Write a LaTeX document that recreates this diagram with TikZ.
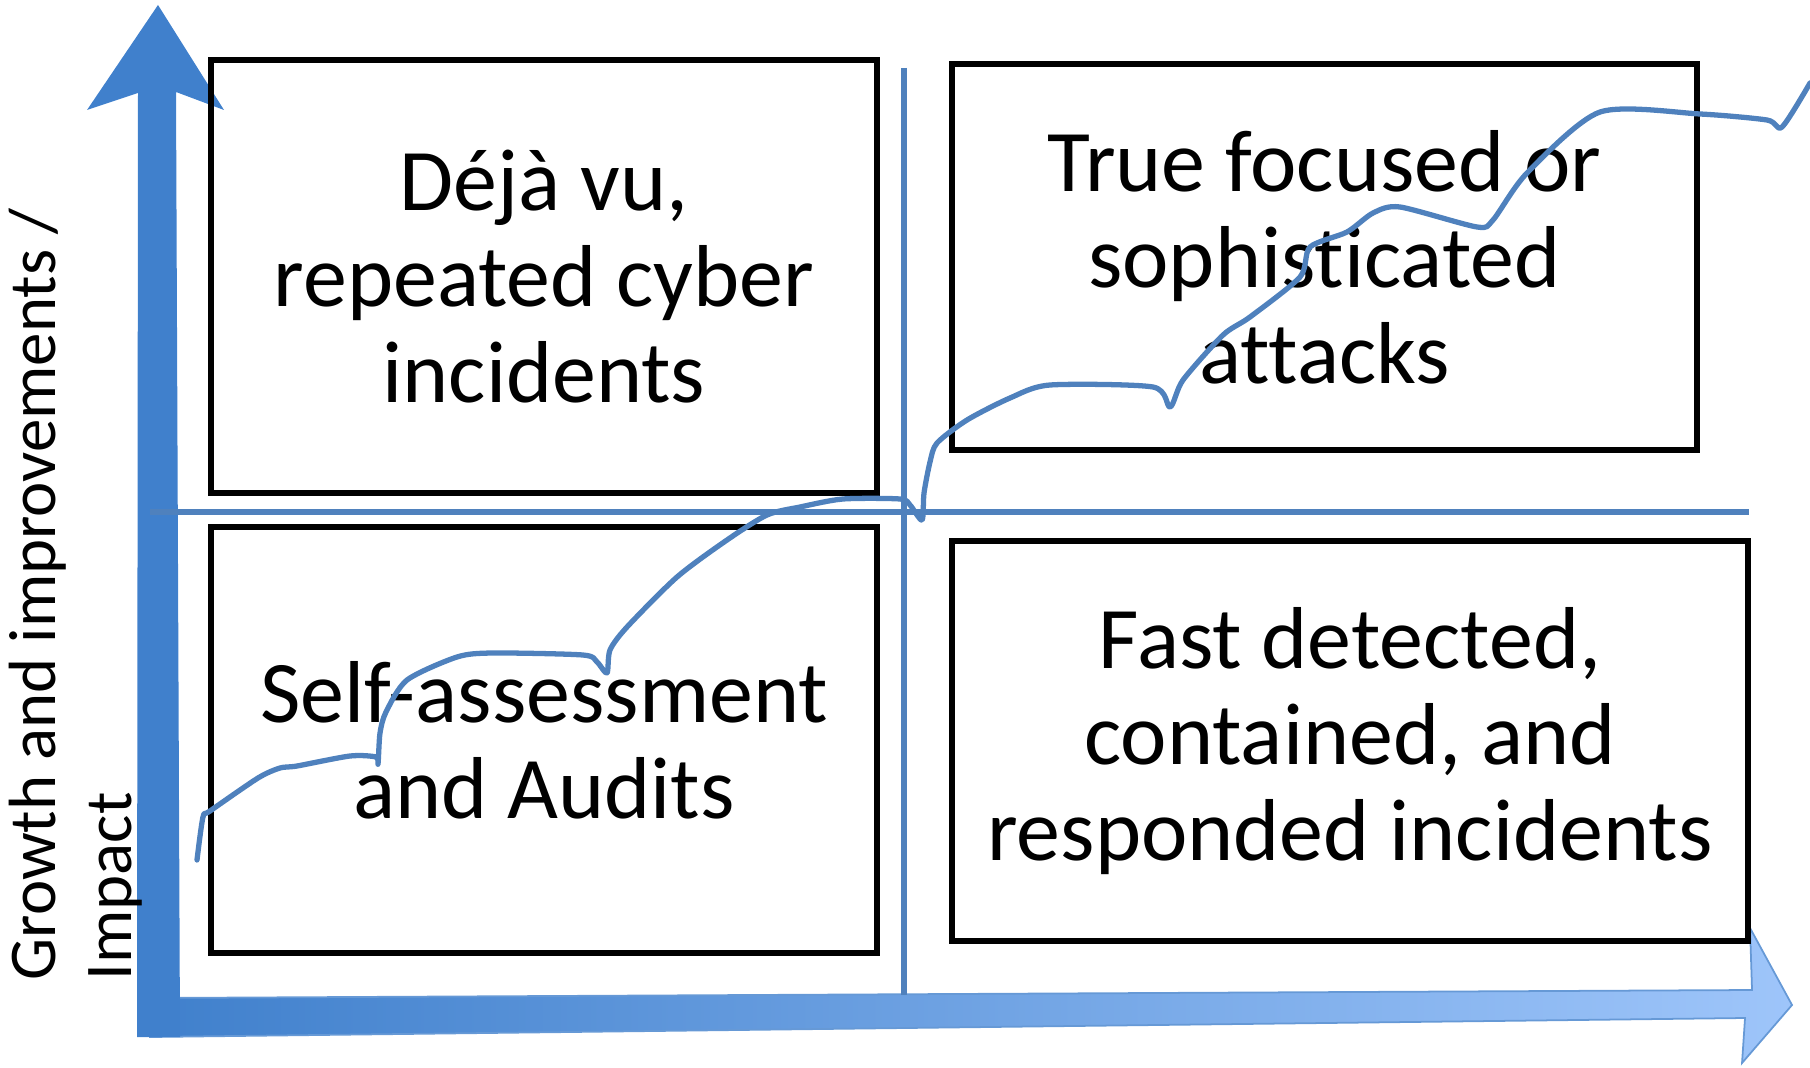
\documentclass[tikz,border=0pt]{standalone}
\usepackage{fontspec}
\setmainfont{Carlito}[Ligatures={CommonOff,ContextualOff}]
\usepackage{tikz}
\usetikzlibrary{positioning}

\definecolor{axisblue}{RGB}{64,128,204}
\definecolor{axislight}{RGB}{158,197,250}
\definecolor{lineblue}{RGB}{79,129,189}

\begin{document}
\begin{tikzpicture}[
    x=0.01cm, y=-0.01cm,
    quadrant/.style={rectangle, draw=black, line width=1.7pt, align=center, inner sep=0pt, font=\fontsize{25}{27.3}\selectfont},
    divider/.style={draw=lineblue, line width=1.7pt},
    trend/.style={draw=lineblue, line width=1.5pt, line join=round, line cap=round}
]
\useasboundingbox (0,0) rectangle (1810,1067);

% axes
\path[left color=axisblue, right color=axislight, draw=axisblue!80, line width=0.5pt]
  (150,998) -- (1752,990) -- (1750,928) -- (1792,1005) -- (1742,1063) -- (1745,1018) -- (150,1037) -- cycle;
\fill[axisblue] (137,1037) -- (138,93) -- (87,110) -- (158,5) -- (224,110) -- (176,92) -- (180,1037) -- cycle;

\node[rotate=90, anchor=north west, align=left, inner sep=0pt, font=\fontsize{19}{21.6}\selectfont] (ylabel) at (8,981) {Growth and improvements /\\Impact};

% cross lines
\coordinate (vtop) at (904,68);
\coordinate (vbot) at (904,995);
\coordinate (hleft) at (150,512);
\coordinate (hright) at (1749,512);
\draw[divider] (vtop) -- (vbot);
\draw[divider] (hleft) -- (hright);

% quadrants
\node[quadrant, minimum width=6.66cm, minimum height=4.33cm] (deja) at (544,276.5) {Déjà vu,\\repeated cyber\\incidents};
\node[quadrant, minimum width=6.66cm, minimum height=4.26cm, below=0.28cm of deja] (selfaudit) {Self-assessment\\and Audits};
\node[quadrant, minimum width=7.45cm, minimum height=3.85cm] (focused) at (1324.5,257) {True focused or\\sophisticated\\attacks};
\node[quadrant, minimum width=7.96cm, minimum height=4.00cm, below=0.85cm of focused.south west, anchor=north west] (fastdetect) {Fast detected,\\contained, and\\responded incidents};

% maturity curve
\draw[trend] plot[smooth, tension=0.45] coordinates {
  (197,860) (203,817) (210,811) (258,778) (280,768) (297,766) (350,756) (376,757) (378,764)
  (380,733) (386,712) (407,680) (457,657) (493,653) (583,655) (597,662) (607,673)
  (610,650) (627,627) (677,577) (727,540) (767,515) (800,507) (843,499) (900,499) (910,505) (922,520)
  (924,493) (930,462) (937,443) (967,420) (1010,398) (1050,385) (1153,387) (1170,407)
  (1183,380) (1223,335) (1250,317) (1300,277) (1310,247) (1347,232) (1373,213) (1400,207)
  (1477,227) (1493,220) (1527,173) (1600,112) (1700,114) (1767,120) (1782,127) (1810,83)};

\end{tikzpicture}
\end{document}
